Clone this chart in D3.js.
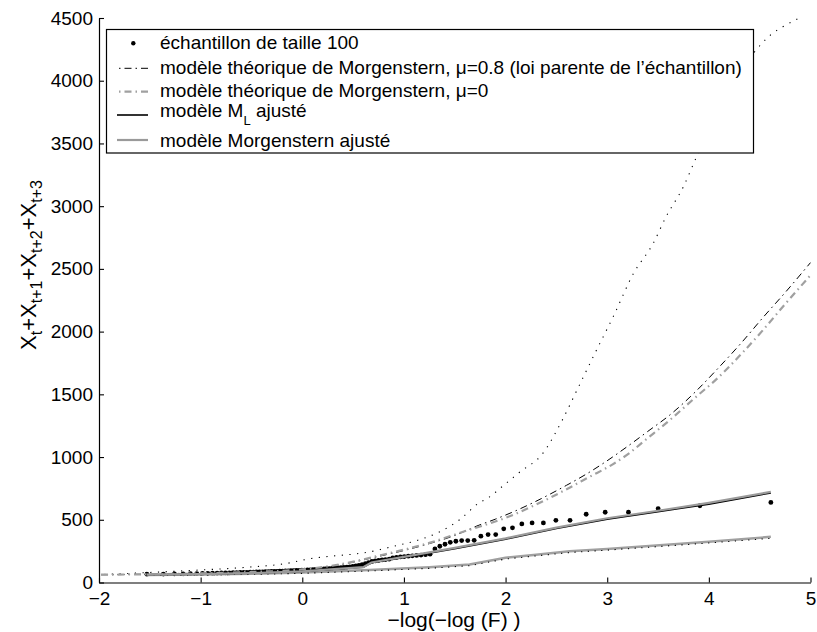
<!DOCTYPE html>
<html><head><meta charset="utf-8">
<script src="https://cdn.jsdelivr.net/npm/d3@7"></script>
<style>body{margin:0;background:#fff}svg{display:block}</style>
</head><body>
<script>
// ---------------- DATA ----------------
const xTicks = [-2,-1,0,1,2,3,4,5];
const yTicks = [0,500,1000,1500,2000,2500,3000,3500,4000,4500];

// sample of size 100 (plotting positions and sorted values)
const sampleX = [-1.529,-1.367,-1.258,-1.172,-1.101,-1.038,-0.982,-0.930,-0.883,-0.838,
 -0.796,-0.756,-0.718,-0.681,-0.646,-0.611,-0.578,-0.545,-0.513,-0.482,
 -0.452,-0.421,-0.392,-0.363,-0.334,-0.305,-0.277,-0.249,-0.221,-0.194,
 -0.166,-0.139,-0.112,-0.085,-0.058,-0.031,-0.004,0.023,0.050,0.077,
 0.104,0.131,0.158,0.185,0.213,0.240,0.268,0.296,0.324,0.352,
 0.381,0.410,0.439,0.468,0.498,0.528,0.558,0.589,0.621,0.652,
 0.685,0.717,0.751,0.785,0.819,0.855,0.890,0.927,0.965,1.004,
 1.043,1.083,1.125,1.168,1.212,1.257,1.305,1.353,1.404,1.456,
 1.511,1.568,1.628,1.691,1.757,1.828,1.903,1.982,2.068,2.160,
 2.261,2.372,2.495,2.634,2.793,2.980,3.209,3.501,3.912,4.610];
const sampleY = [66,67,68,69,70,71,72,73,74,75,
 76,77,77,78,79,80,80,81,82,83,
 84,84,85,86,87,88,88,89,90,91,
 92,93,94,95,96,97,98,99,100,101,
 102,104,105,107,108,110,111,113,114,116,
 118,120,122,125,128,132,136,142,150,158,
 168,172,176,180,183,186,196,200,204,207,
 210,213,216,219,222,226,268,289,305,320,
 329,334,334,336,369,382,382,428,436,467,
 475,475,496,496,544,560,560,589,612,638];

// theoretical Morgenstern mu=0.8 (black dash-dot)
const morg08X = [-1.98,-1.5,-1.0,-0.5,0.0,0.36,0.76,1.0,1.25,1.5,1.71,1.9,2.1,2.26,2.42,2.6,2.79,2.98,3.2,3.4,3.62,3.88,4.07,4.33,4.53,4.76,5.0];
const morg08Y = [62,66,72,82,100,140,210,255,310,375,448,505,572,632,697,775,862,960,1085,1205,1338,1530,1690,1920,2110,2320,2550];
// theoretical Morgenstern mu=0 (grey dash-dot)
const morg0X = [-1.98,-1.5,-1.0,-0.5,0.0,0.36,0.76,1.25,1.65,1.84,2.04,2.23,2.43,2.62,2.82,3.05,3.22,3.38,3.62,3.88,4.07,4.34,4.53,4.73,5.0];
const morg0Y = [62,66,72,84,104,143,215,316,422,470,528,595,672,752,840,940,1033,1139,1298,1484,1617,1840,2010,2200,2450];
// fitted M_L model (black solid)
const mlX = [-1.53,-1.0,-0.5,0.0,0.35,0.6,0.68,1.0,1.5,2.0,2.5,3.0,3.5,4.0,4.61];
const mlY = [62,66,74,88,108,122,158,200,270,345,430,505,565,625,714];
// fitted Morgenstern model (grey solid)
const mfitX = [-1.53,-1.0,-0.5,0.0,0.35,0.6,0.68,1.0,1.5,2.0,2.5,3.0,3.5,4.0,4.61];
const mfitY = [62,66,74,88,108,122,160,204,276,352,438,512,572,635,722];
// lower grey solid curve
const lowX = [-1.53,-1.0,-0.5,0.0,0.66,1.25,1.645,2.0,2.3,2.63,3.0,3.62,4.0,4.61];
const lowY = [60,64,70,80,100,122,143,197,222,249,268,303,325,364];
// lower dotted bound
const lowDotX = [-1.53,-1.0,-0.5,0.0,0.66,1.25,1.645,2.0,2.3,2.63,3.0,3.62,4.0,4.61];
const lowDotY = [56,60,65,73,92,113,134,187,212,239,258,293,315,352];
// upper dotted bound
const upX = [-1.95,-1.5,-1.0,-0.57,-0.1,0.0,0.77,1.55,1.74,1.83,1.97,2.13,2.37,2.56,2.72,2.88,3.06,3.26,3.45,3.58,3.75,3.88,4.45,4.6,4.75,4.88];
const upY = [64,80,100,120,160,178,263,502,635,675,767,874,1033,1298,1563,1829,2121,2466,2700,2917,3156,3395,4230,4360,4440,4495];

const legendLabels = [
  "échantillon de taille 100",
  "modèle théorique de Morgenstern, μ=0.8 (loi parente de l’échantillon)",
  "modèle théorique de Morgenstern, μ=0",
  "modèle M|L| ajusté",
  "modèle Morgenstern ajusté"
];

// ---------------- DRAW ----------------
const W = 817, H = 632;
const FONT = "'Liberation Sans', Arial, Helvetica, sans-serif";
const svg = d3.select("body").append("svg").attr("width", W).attr("height", H)
  .style("font-family", FONT);

const x = d3.scaleLinear().domain([-2, 5]).range([99, 810.5]);
const y = d3.scaleLinear().domain([0, 4500]).range([582.5, 18]);

svg.append("defs").append("clipPath").attr("id", "clip")
  .append("rect").attr("x", 99).attr("y", 18).attr("width", 712).attr("height", 565);

const plot = svg.append("g").attr("clip-path", "url(#clip)");
const zip = (xs, ys) => xs.map((v, i) => [v, ys[i]]);
const lineLin = d3.line().x(d => x(d[0])).y(d => y(d[1]));
const lineSm = d3.line().x(d => x(d[0])).y(d => y(d[1])).curve(d3.curveMonotoneX);

// sample dots (drawn first)
plot.selectAll("circle.s").data(zip(sampleX, sampleY)).enter().append("circle")
  .attr("cx", d => x(d[0])).attr("cy", d => y(d[1])).attr("r", 2.4).attr("fill", "#000");

function path(data, gen, stroke, width, dash) {
  const p = plot.append("path").datum(data).attr("d", gen)
    .attr("fill", "none").attr("stroke", stroke).attr("stroke-width", width);
  if (dash) p.attr("stroke-dasharray", dash);
  return p;
}
// confidence-like bounds
path(zip(upX, upY), lineSm, "#000", 1.1, "1.2,6.5");
path(zip(lowX, lowY), lineLin, "#a0a0a0", 2.5);
path(zip(lowDotX, lowDotY), lineLin, "#000", 1.1, "1.2,5.5");
// theoretical curves
path(zip(morg08X, morg08Y), lineSm, "#000", 1, "7,4,1.5,4");
path(zip(morg0X, morg0Y), lineSm, "#a0a0a0", 2.2, "7,4,1.5,4");
// fitted
path(zip(mlX, mlY), lineLin, "#000", 1.6);
path(zip(mfitX, mfitY), lineLin, "#9a9a9a", 2.2);

// axes
const ax = svg.append("g").attr("transform", `translate(0,${y(0)})`)
  .call(d3.axisBottom(x).tickValues(xTicks).tickFormat(d3.format("d")).tickSizeInner(-5).tickSizeOuter(0).tickPadding(9.5));
const ay = svg.append("g").attr("transform", `translate(${x(-2)},0)`)
  .call(d3.axisLeft(y).tickValues(yTicks).tickFormat(d3.format("d")).tickSizeInner(-5).tickSizeOuter(0).tickPadding(6));
[ax, ay].forEach(g => {
  g.attr("font-family", FONT).attr("font-size", 19);
  g.selectAll("path.domain").attr("stroke", "#000").attr("stroke-width", 1.2);
  g.selectAll("line").attr("stroke", "#000").attr("stroke-width", 1.1);
  g.selectAll("text").attr("fill", "#000");
});

// axis labels
svg.append("text").attr("x", 454).attr("y", 627).attr("text-anchor", "middle")
  .attr("font-size", 21).text("−log(−log (F) )");

const yl = svg.append("text").attr("transform", "translate(36,265) rotate(-90)")
  .attr("text-anchor", "middle").attr("font-size", 22);
const parts = [["X",""],["t","s"],["+X",""],["t+1","s"],["+X",""],["t+2","s"],["+X",""],["t+3","s"]];
parts.forEach((p, i) => {
  const t = yl.append("tspan").text(p[0]);
  if (p[1] === "s") t.attr("dy", 6).attr("font-size", 16);
  else if (i > 0) t.attr("dy", -6);
});

// legend
const lg = svg.append("g");
lg.append("rect").attr("x", 106.5).attr("y", 29.5).attr("width", 647).attr("height", 123.5)
  .attr("fill", "#fff").attr("stroke", "#000").attr("stroke-width", 1.2);
const baselines = [49.3, 74, 97.3, 116.7, 146.7];
const sampleYs = [43.3, 68.3, 91.7, 115, 140];
lg.append("circle").attr("cx", 133.3).attr("cy", sampleYs[0]).attr("r", 2.2).attr("fill", "#000");
const legStyles = [null, ["#000", 1, "7,4,1.5,4"], ["#a0a0a0", 2.2, "7,4,1.5,4"], ["#000", 1.6, null], ["#9a9a9a", 2.2, null]];
legStyles.forEach((s, i) => {
  if (!s) return;
  const l = lg.append("line").attr("x1", 117).attr("x2", 148).attr("y1", sampleYs[i]).attr("y2", sampleYs[i])
    .attr("stroke", s[0]).attr("stroke-width", s[1]);
  if (s[2]) l.attr("stroke-dasharray", s[2]).attr("stroke-dashoffset", 9);
});
legendLabels.forEach((lab, i) => {
  const t = lg.append("text").attr("x", 160).attr("y", baselines[i]).attr("font-size", 19);
  const segs = lab.split("|");
  segs.forEach((s, j) => {
    const ts = t.append("tspan").text(s);
    if (j === 1) ts.attr("dy", 8).attr("font-size", 13);
    if (j === 2) ts.attr("dy", -8);
  });
});
</script>
</body></html>
